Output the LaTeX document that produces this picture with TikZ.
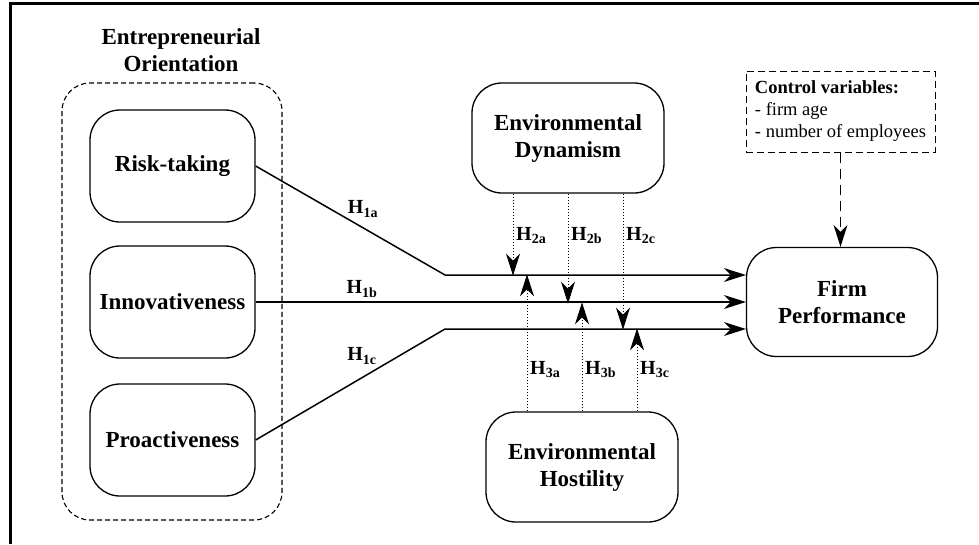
\documentclass[tikz,border=0pt]{standalone}
\usepackage{fontspec}
\setmainfont{Liberation Serif}
\usetikzlibrary{arrows.meta,positioning,calc}
\newcommand{\hyp}[1]{H\textsubscript{#1}}
\tikzset{
  factor/.style={draw, line width=1.3pt, rounded corners=30pt, minimum width=165pt,
    minimum height=112pt, align=center, font=\fontsize{23}{27}\selectfont\bfseries},
  envbox/.style={factor, minimum width=192pt, minimum height=110pt},
  hyplabel/.style={font=\fontsize{20}{23}\selectfont\bfseries, inner sep=3pt},
  effect/.style={line width=1.5pt, ->},
  moderator/.style={line width=1pt, dash pattern=on 1.8pt off 1.2pt, ->},
}

\begin{document}
\begin{tikzpicture}[x=1pt, y=-1pt, >={Stealth[length=22pt,width=14pt,inset=7pt]}]
    \useasboundingbox (0,0) rectangle (979,544);
    \draw[line width=3pt] (10,544) -- (10,3.5) -- (979,3.5);
    % entrepreneurial orientation and its three dimensions
    \node[font=\fontsize{23}{27}\selectfont\bfseries, align=center] (eotitle) at (181,50) {Entrepreneurial\\Orientation};
    \node[draw, dash pattern=on 5pt off 3pt, line width=1.1pt, rounded corners=28pt,
      minimum width=220pt, minimum height=437pt] (eo) at (172,301.5) {};
    \node[factor] (risk) at (172.5,166) {Risk-taking};
    \node[factor] (innov) at (172.5,302) {Innovativeness};
    \node[factor] (proact) at (172.5,440) {Proactiveness};
    % moderators, outcome and controls
    \node[envbox] (dyn) at (568,138) {Environmental\\Dynamism};
    \node[envbox] (host) at (582,467) {Environmental\\Hostility};
    \node[factor, minimum width=191pt, minimum height=109pt] (perf) at (842,302) {Firm\\Performance};
    \node[draw, dash pattern=on 7pt off 4pt, line width=1pt, minimum width=189pt, minimum height=81pt,
      align=left, font=\fontsize{18.5}{22}\selectfont] (ctrl) at (840.5,111.5)
      {\textbf{Control variables:}\\- firm age\\- number of employees};
    % direct effects
    \coordinate (bendA) at (445,275);
    \coordinate (bendC) at (445,329);
    \draw[effect] (risk.east) -- (bendA) -- (bendA -| perf.west);
    \draw[effect] (innov) -- (perf);
    \draw[effect] (proact.east) -- (bendC) -- (bendC -| perf.west);
    \node[hyplabel] (h1a) at (363,209) {\hyp{1a}};
    \node[hyplabel] (h1b) at (362,289) {\hyp{1b}};
    \node[hyplabel] (h1c) at (362,356) {\hyp{1c}};
    % moderating effects
    \foreach \dx/\len/\s in {-55/82/a, 0/110/b, 55/136/c} {
      \draw[moderator] ($(dyn.south)+(\dx,0)$) -- ++(0,\len);
      \node[hyplabel, right] (h2\s) at ($(dyn.south)+(\dx,42)$) {\hyp{2\s}};
    }
    \foreach \dx/\len/\s in {-55/137/a, 0/109/b, 55/83/c} {
      \draw[moderator] ($(host.north)+(\dx,0)$) -- ++(0,-\len);
      \node[hyplabel, right] (h3\s) at ($(host.north)+(\dx,-42)$) {\hyp{3\s}};
    }
    \draw[line width=1.3pt, dash pattern=on 10pt off 6pt, ->] (ctrl.south) -- (ctrl.south |- perf.north);
\end{tikzpicture}
\end{document}
